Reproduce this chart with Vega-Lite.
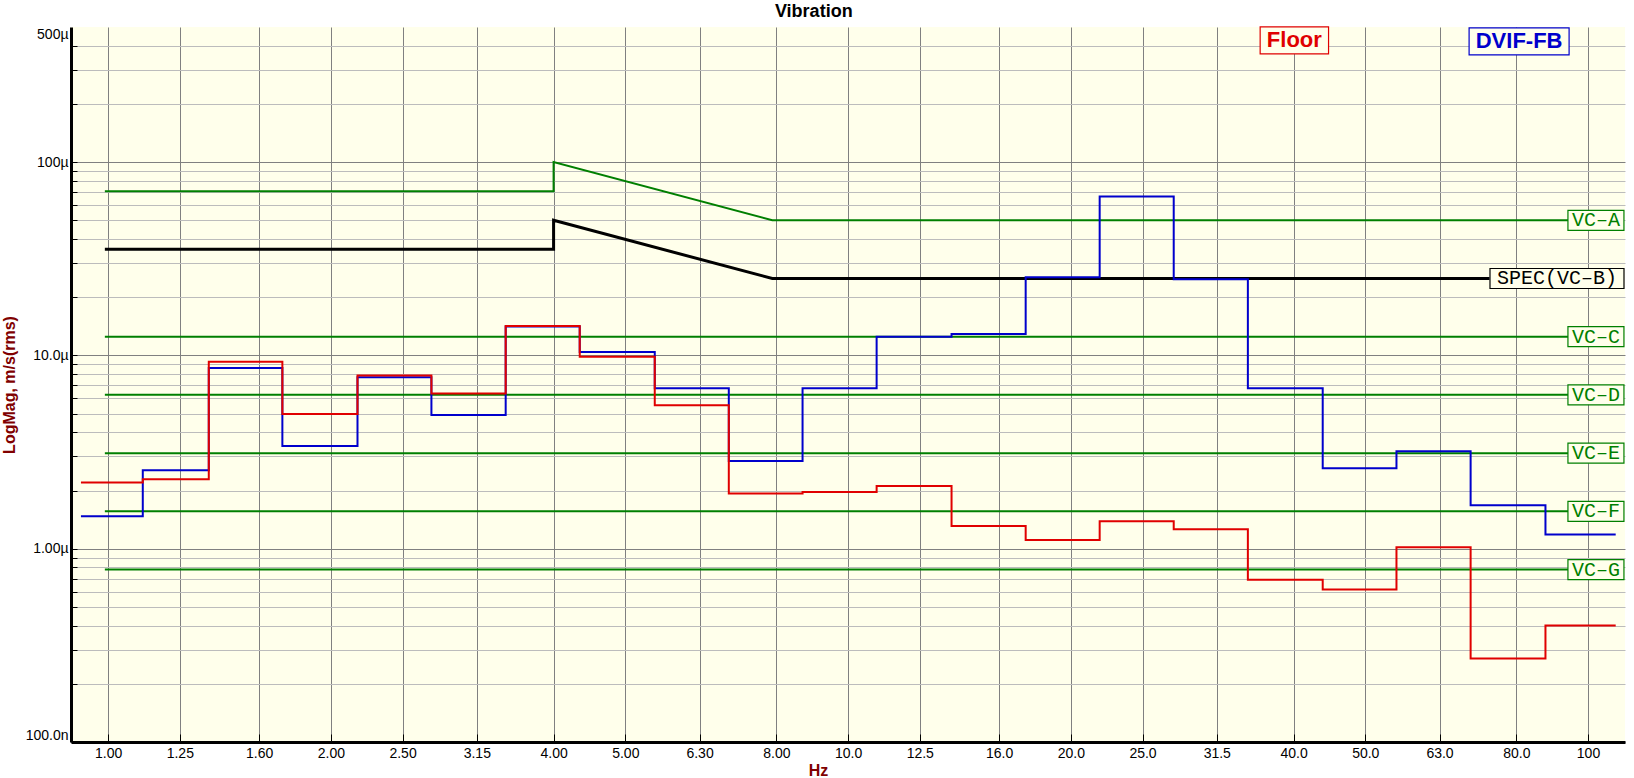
{
  "$schema": "https://vega.github.io/schema/vega-lite/v6.json",
  "width": 1554,
  "height": 715,
  "autosize": {"type": "none"},
  "padding": {"left": 71, "top": 27, "right": 9, "bottom": 36},
  "background": "#ffffff",
  "title": {
    "text": "Vibration",
    "font": "Liberation Sans",
    "fontSize": 18,
    "fontWeight": "bold",
    "color": "#000000",
    "anchor": "middle",
    "frame": "bounds",
    "baseline": "alphabetic",
    "offset": -10
  },
  "datasets": {
    "spectra": [
      {"series": "Floor", "f": 0.919, "v": 2.2},
      {"series": "Floor", "f": 1.114, "v": 2.29},
      {"series": "Floor", "f": 1.368, "v": 9.27},
      {"series": "Floor", "f": 1.72, "v": 4.97},
      {"series": "Floor", "f": 2.173, "v": 7.88},
      {"series": "Floor", "f": 2.735, "v": 6.36},
      {"series": "Floor", "f": 3.446, "v": 14.2},
      {"series": "Floor", "f": 4.339, "v": 9.84},
      {"series": "Floor", "f": 5.48, "v": 5.53},
      {"series": "Floor", "f": 6.9, "v": 1.93},
      {"series": "Floor", "f": 8.68, "v": 1.965},
      {"series": "Floor", "f": 10.93, "v": 2.11},
      {"series": "Floor", "f": 13.8, "v": 1.31},
      {"series": "Floor", "f": 17.38, "v": 1.108},
      {"series": "Floor", "f": 21.88, "v": 1.385},
      {"series": "Floor", "f": 27.55, "v": 1.259},
      {"series": "Floor", "f": 34.7, "v": 0.691},
      {"series": "Floor", "f": 43.8, "v": 0.615},
      {"series": "Floor", "f": 55.1, "v": 1.016},
      {"series": "Floor", "f": 69.4, "v": 0.27},
      {"series": "Floor", "f": 87.6, "v": 0.401},
      {"series": "Floor", "f": 109, "v": 0.401},
      {"series": "DVIF-FB", "f": 0.919, "v": 1.47},
      {"series": "DVIF-FB", "f": 1.114, "v": 2.545},
      {"series": "DVIF-FB", "f": 1.368, "v": 8.6},
      {"series": "DVIF-FB", "f": 1.72, "v": 3.4},
      {"series": "DVIF-FB", "f": 2.173, "v": 7.72},
      {"series": "DVIF-FB", "f": 2.735, "v": 4.91},
      {"series": "DVIF-FB", "f": 3.446, "v": 14.1},
      {"series": "DVIF-FB", "f": 4.339, "v": 10.4},
      {"series": "DVIF-FB", "f": 5.48, "v": 6.77},
      {"series": "DVIF-FB", "f": 6.9, "v": 2.84},
      {"series": "DVIF-FB", "f": 8.68, "v": 6.77},
      {"series": "DVIF-FB", "f": 10.93, "v": 12.49},
      {"series": "DVIF-FB", "f": 13.8, "v": 12.89},
      {"series": "DVIF-FB", "f": 17.38, "v": 25.36},
      {"series": "DVIF-FB", "f": 21.88, "v": 66.4},
      {"series": "DVIF-FB", "f": 27.55, "v": 24.77},
      {"series": "DVIF-FB", "f": 34.7, "v": 6.77},
      {"series": "DVIF-FB", "f": 43.8, "v": 2.61},
      {"series": "DVIF-FB", "f": 55.1, "v": 3.19},
      {"series": "DVIF-FB", "f": 69.4, "v": 1.68},
      {"series": "DVIF-FB", "f": 87.6, "v": 1.186},
      {"series": "DVIF-FB", "f": 109, "v": 1.186}
    ],
    "limits": [
      {"series": "VC-A", "i": 0, "f": 0.99, "v": 70.7},
      {"series": "VC-A", "i": 1, "f": 4, "v": 70.7},
      {"series": "VC-A", "i": 2, "f": 4, "v": 100},
      {"series": "VC-A", "i": 3, "f": 7.9, "v": 50},
      {"series": "VC-A", "i": 4, "f": 94, "v": 50},
      {"series": "VC-C", "i": 0, "f": 0.99, "v": 12.5},
      {"series": "VC-C", "i": 1, "f": 94, "v": 12.5},
      {"series": "VC-D", "i": 0, "f": 0.99, "v": 6.25},
      {"series": "VC-D", "i": 1, "f": 94, "v": 6.25},
      {"series": "VC-E", "i": 0, "f": 0.99, "v": 3.12},
      {"series": "VC-E", "i": 1, "f": 94, "v": 3.12},
      {"series": "VC-F", "i": 0, "f": 0.99, "v": 1.56},
      {"series": "VC-F", "i": 1, "f": 94, "v": 1.56},
      {"series": "VC-G", "i": 0, "f": 0.99, "v": 0.78},
      {"series": "VC-G", "i": 1, "f": 94, "v": 0.78},
      {"series": "SPEC", "i": 0, "f": 0.99, "v": 35.4},
      {"series": "SPEC", "i": 1, "f": 4, "v": 35.4},
      {"series": "SPEC", "i": 2, "f": 4, "v": 50},
      {"series": "SPEC", "i": 3, "f": 7.9, "v": 25},
      {"series": "SPEC", "i": 4, "f": 73.6, "v": 25}
    ],
    "labels": [
      {"label": "VC–A", "kind": "VC", "f": 102.5, "v": 50},
      {"label": "SPEC(VC–B)", "kind": "SPEC", "f": 90.8, "v": 25},
      {"label": "VC–C", "kind": "VC", "f": 102.5, "v": 12.5},
      {"label": "VC–D", "kind": "VC", "f": 102.5, "v": 6.25},
      {"label": "VC–E", "kind": "VC", "f": 102.5, "v": 3.12},
      {"label": "VC–F", "kind": "VC", "f": 102.5, "v": 1.56},
      {"label": "VC–G", "kind": "VC", "f": 102.5, "v": 0.78},
      {"label": "Floor", "kind": "Floor", "f": 40.1, "v": 426},
      {"label": "DVIF-FB", "kind": "DVIF", "f": 80.7, "v": 421}
    ]
  },
  "encoding": {
    "x": {
      "field": "f",
      "type": "quantitative",
      "scale": {"type": "log", "domain": [0.891, 112.2], "nice": false},
      "axis": {
        "title": "Hz",
        "titleX": 747,
        "titlePadding": 2,
        "values": [1, 1.25, 1.6, 2, 2.5, 3.15, 4, 5, 6.3, 8, 10, 12.5, 16, 20, 25, 31.5, 40, 50, 63, 80, 100],
        "labelExpr": "datum.value < 10 ? format(datum.value, '.2f') : datum.value < 100 ? format(datum.value, '.1f') : '100'",
        "labelFlush": false,
        "labelOverlap": false,
        "tickSize": -8,
        "labelPadding": 12,
        "gridColor": "#808080"
      }
    },
    "y": {
      "field": "v",
      "type": "quantitative",
      "scale": {"type": "log", "domain": [0.1, 500], "nice": false},
      "axis": {
        "title": "LogMag, m/s(rms)",
        "titlePadding": 8,
        "values": [0.1, 0.2, 0.3, 0.4, 0.5, 0.6, 0.7, 0.8, 0.9, 1, 2, 3, 4, 5, 6, 7, 8, 9, 10, 20, 30, 40, 50, 60, 70, 80, 90, 100, 200, 300, 400, 500],
        "labelExpr": "datum.value == 0.1 ? '100.0n' : datum.value == 1 ? '1.00µ' : datum.value == 10 ? '10.0µ' : datum.value == 100 ? '100µ' : datum.value == 500 ? '500µ' : ''",
        "labelFlush": true,
        "labelOverlap": false,
        "tickSize": -6,
        "labelPadding": 9,
        "tickOpacity": {"condition": {"test": "datum.value == 500", "value": 0}, "value": 1},
        "gridOpacity": {"condition": {"test": "datum.value == 500", "value": 0}, "value": 1},
        "gridColor": {
          "condition": {"test": "datum.value == 0.1 || datum.value == 1 || datum.value == 10 || datum.value == 100", "value": "#808080"},
          "value": "#bcbcbc"
        }
      }
    }
  },
  "layer": [
    {
      "data": {"name": "limits"},
      "transform": [{"filter": "datum.series != 'SPEC'"}],
      "mark": {"type": "line", "color": "#007f00", "strokeWidth": 2},
      "encoding": {"detail": {"field": "series"}, "order": {"field": "i"}}
    },
    {
      "data": {"name": "limits"},
      "transform": [{"filter": "datum.series == 'SPEC'"}],
      "mark": {"type": "line", "color": "#000000", "strokeWidth": 3},
      "encoding": {"order": {"field": "i"}}
    },
    {
      "data": {"name": "spectra"},
      "transform": [{"filter": "datum.series == 'DVIF-FB'"}],
      "mark": {"type": "line", "interpolate": "step-after", "color": "#0000cc", "strokeWidth": 2}
    },
    {
      "data": {"name": "spectra"},
      "transform": [{"filter": "datum.series == 'Floor'"}],
      "mark": {"type": "line", "interpolate": "step-after", "color": "#e00000", "strokeWidth": 2}
    },
    {
      "data": {"name": "labels"},
      "mark": {"type": "point", "filled": true, "fill": "#ffffeb", "strokeWidth": 1.2, "size": 400, "opacity": 1},
      "encoding": {
        "shape": {
          "field": "kind",
          "scale": {
            "domain": ["VC", "SPEC", "Floor", "DVIF"],
            "range": ["M-2.8,-1H2.8V1H-2.8Z", "M-6.7,-1H6.7V1H-6.7Z", "M-3.42,-1.35H3.42V1.35H-3.42Z", "M-5,-1.35H5V1.35H-5Z"]
          },
          "legend": null
        },
        "stroke": {
          "field": "kind",
          "scale": {"domain": ["VC", "SPEC", "Floor", "DVIF"], "range": ["#007f00", "#000000", "#e00000", "#0000cc"]},
          "legend": null
        }
      }
    },
    {
      "data": {"name": "labels"},
      "transform": [{"filter": "datum.kind == 'VC' || datum.kind == 'SPEC'"}],
      "mark": {"type": "text", "font": "Liberation Mono", "fontSize": 20, "align": "center", "baseline": "middle"},
      "encoding": {
        "text": {"field": "label"},
        "color": {
          "field": "kind",
          "scale": {"domain": ["VC", "SPEC", "Floor", "DVIF"], "range": ["#007f00", "#000000", "#e00000", "#0000cc"]},
          "legend": null
        }
      }
    },
    {
      "data": {"name": "labels"},
      "transform": [{"filter": "datum.kind == 'Floor' || datum.kind == 'DVIF'"}],
      "mark": {"type": "text", "font": "Liberation Sans", "fontSize": 22, "fontWeight": "bold", "align": "center", "baseline": "middle"},
      "encoding": {
        "text": {"field": "label"},
        "color": {
          "field": "kind",
          "scale": {"domain": ["VC", "SPEC", "Floor", "DVIF"], "range": ["#007f00", "#000000", "#e00000", "#0000cc"]},
          "legend": null
        }
      }
    }
  ],
  "config": {
    "view": {"fill": "#ffffeb", "stroke": null},
    "axis": {
      "labelFont": "Liberation Sans",
      "labelFontSize": 14,
      "labelColor": "#000000",
      "titleFont": "Liberation Sans",
      "titleFontSize": 16,
      "titleFontWeight": "bold",
      "titleColor": "#800000",
      "domainColor": "#000000",
      "domainWidth": 3,
      "tickColor": "#000000",
      "gridWidth": 1,
      "grid": true
    }
  }
}
